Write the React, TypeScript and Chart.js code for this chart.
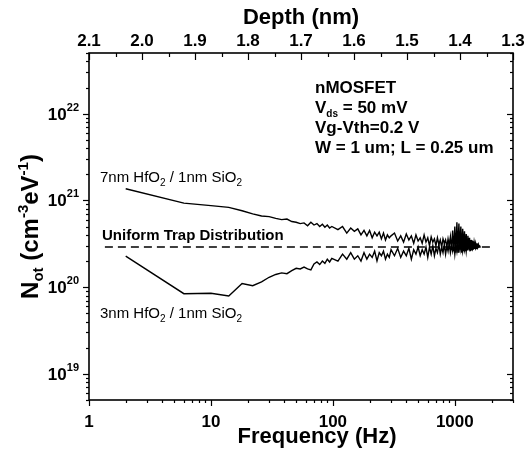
import React, { useEffect, useRef } from "react";
import { Chart, registerables } from "chart.js";

Chart.register(...registerables);

// ---------- data ----------
const freqHz = [
  2, 6, 10, 14, 18, 22, 26, 30, 34, 38, 42, 46, 50, 54, 58, 62, 66, 70, 74, 78, 82, 86, 90, 94, 98,
  110, 120, 130, 140, 150, 160, 170, 180, 190, 200, 210, 220, 230, 240, 250, 260, 270, 280, 290, 300,
  320, 340, 360, 380, 400, 420, 440, 460, 480, 500, 520, 540, 560, 580, 600, 620, 640, 660, 680, 700,
  720, 740, 760, 780, 800, 820, 840, 860, 880, 900, 920, 940, 960, 980, 1000, 1020, 1040, 1060, 1080, 1100,
  1120, 1140, 1160, 1180, 1200, 1220, 1240, 1260, 1280, 1300, 1320, 1340, 1360, 1380, 1400, 1420, 1440, 1460, 1480, 1500,
  1520, 1540, 1560, 1580, 1600,
];

// 7nm HfO2 / 1nm SiO2  (cm^-3 eV^-1)
const not7nm = [
  13.6e20, 9.3e20, 8.7e20, 8.3e20, 7.6e20, 7.0e20, 6.6e20, 6.5e20, 6.2e20, 6.0e20, 6.1e20, 5.7e20, 5.6e20, 5.4e20, 5.5e20, 5.1e20, 5.6e20, 5.2e20, 5.4e20, 5.0e20, 5.3e20, 4.9e20, 5.2e20, 4.8e20, 5.0e20,
  4.6e20, 5.0e20, 4.2e20, 4.8e20, 4.4e20, 4.7e20, 4.0e20, 4.5e20, 3.9e20, 4.5e20, 3.7e20, 4.3e20, 3.9e20, 4.3e20, 3.6e20, 4.2e20, 3.5e20, 4.0e20, 3.7e20, 3.9e20,
  4.2e20, 3.4e20, 3.9e20, 3.3e20, 4.1e20, 3.5e20, 3.9e20, 3.2e20, 4.0e20, 3.4e20, 3.7e20, 3.2e20, 4.0e20, 3.3e20, 3.7e20, 3.0e20, 3.8e20, 3.3e20, 3.6e20, 3.0e20,
  3.7e20, 3.1e20, 3.5e20, 2.9e20, 3.6e20, 3.2e20, 3.5e20, 2.9e20, 3.6e20, 3.0e20, 3.8e20, 2.7e20, 4.5e20, 2.6e20, 5.0e20, 2.5e20, 5.6e20, 2.5e20, 5.4e20, 2.7e20,
  5.0e20, 2.5e20, 4.7e20, 2.6e20, 4.4e20, 2.6e20, 4.1e20, 2.7e20, 3.9e20, 2.8e20, 3.7e20, 2.6e20, 3.5e20, 2.8e20, 3.4e20, 2.7e20, 3.3e20, 2.9e20, 3.2e20, 2.8e20,
  3.2e20, 2.9e20, 3.1e20, 2.9e20, 3.0e20,
];

// 3nm HfO2 / 1nm SiO2  (cm^-3 eV^-1)
const not3nm = [
  2.28e20, 0.84e20, 0.85e20, 0.79e20, 1.10e20, 1.04e20, 1.15e20, 1.30e20, 1.40e20, 1.46e20, 1.43e20, 1.55e20, 1.65e20, 1.62e20, 1.70e20, 1.62e20, 1.58e20, 1.85e20, 1.95e20, 1.82e20, 2.0e20, 1.88e20, 2.1e20, 1.95e20, 2.15e20,
  2.0e20, 2.4e20, 2.1e20, 2.5e20, 2.1e20, 2.3e20, 2.0e20, 2.5e20, 2.1e20, 2.4e20, 2.2e20, 2.6e20, 2.0e20, 2.5e20, 2.3e20, 2.6e20, 2.1e20, 2.4e20, 2.2e20, 2.7e20,
  2.3e20, 2.8e20, 2.2e20, 2.6e20, 2.3e20, 2.8e20, 2.1e20, 2.7e20, 2.4e20, 2.9e20, 2.3e20, 2.7e20, 2.4e20, 2.9e20, 2.2e20, 2.9e20, 2.4e20, 3.0e20, 2.3e20, 2.8e20,
  2.5e20, 3.1e20, 2.4e20, 2.9e20, 2.5e20, 3.1e20, 2.4e20, 3.0e20, 2.6e20, 3.2e20, 2.5e20, 3.0e20, 2.6e20, 3.2e20, 2.4e20, 3.1e20, 2.6e20, 3.3e20, 2.5e20, 3.2e20,
  2.7e20, 3.3e20, 2.6e20, 3.1e20, 2.7e20, 3.3e20, 2.6e20, 3.2e20, 2.7e20, 3.2e20, 2.8e20, 3.1e20, 2.7e20, 3.1e20, 2.8e20, 3.1e20, 2.8e20, 3.0e20, 2.8e20, 3.0e20,
  2.9e20, 3.0e20, 2.9e20, 3.0e20, 2.95e20,
];

// uniform trap distribution reference line
const uniformFreq = [1.35, 2000];
const uniformNot = [2.9e20, 2.9e20];

const freqTickLabels = [1, 10, 100, 1000];
const yDecades = [19, 20, 21, 22];
const depthTicks = [2.1, 2.0, 1.9, 1.8, 1.7, 1.6, 1.5, 1.4, 1.3];

const annotationLines = ["nMOSFET", "V|ds| = 50 mV", "Vg-Vth=0.2 V", "W = 1 um; L = 0.25 um"];

const FONT = "'Liberation Sans', Arial, Helvetica, sans-serif";

type Part = { t: string; sub?: boolean; sup?: boolean };

function drawParts(ctx: CanvasRenderingContext2D, x: number, y: number, parts: Part[], size: number, weight: string, small: number, subDy: number, supDy: number, measureOnly = false) {
  let cx = x;
  for (const p of parts) {
    const s = p.sub || p.sup ? small : size;
    ctx.font = `${weight} ${s}px ${FONT}`;
    const dy = p.sub ? subDy : p.sup ? -supDy : 0;
    if (!measureOnly) ctx.fillText(p.t, cx, y + dy);
    cx += ctx.measureText(p.t).width;
  }
  return cx - x;
}

const decor = {
  id: "decor",
  afterDraw(chart: any) {
    const { ctx, chartArea: a, scales } = chart;
    const xs = scales.x, ys = scales.y, x2 = scales.x2;
    ctx.save();
    ctx.strokeStyle = "#000";
    ctx.fillStyle = "#000";
    ctx.lineWidth = 1.6;
    ctx.strokeRect(a.left, a.top, a.right - a.left, a.bottom - a.top);

    ctx.lineWidth = 1.2;
    const line = (x1: number, y1: number, x2_: number, y2: number) => {
      ctx.beginPath();
      ctx.moveTo(x1, y1);
      ctx.lineTo(x2_, y2);
      ctx.stroke();
    };
    // bottom log ticks (outward)
    for (let d = 0; d <= 3; d++) {
      for (let m = 1; m <= 9; m++) {
        const v = m * Math.pow(10, d);
        if (v > xs.max) continue;
        const px = Math.round(xs.getPixelForValue(v)) + 0.5;
        line(px, a.bottom, px, a.bottom + (m === 1 ? 6 : 3));
      }
    }
    // left/right log ticks
    for (let e = 18; e <= 22; e++) {
      for (let m = 1; m <= 9; m++) {
        const v = m * Math.pow(10, e);
        if (v < ys.min * 0.999 || v > ys.max * 1.001) continue;
        const py = Math.round(ys.getPixelForValue(v)) + 0.5;
        const len = m === 1 ? 6 : 3;
        line(a.left - len, py, a.left, py);
        line(a.right - len, py, a.right, py);
      }
    }
    // top depth ticks (inward)
    for (let i = 0; i < depthTicks.length; i++) {
      const px = Math.round(x2.getPixelForValue(depthTicks[i])) + 0.5;
      line(px, a.top, px, a.top + 7);
      if (i < depthTicks.length - 1) {
        const mid = (depthTicks[i] + depthTicks[i + 1]) / 2;
        const pm = Math.round(x2.getPixelForValue(mid)) + 0.5;
        line(pm, a.top, pm, a.top + 4);
      }
    }

    // y tick labels 10^n
    ctx.textBaseline = "alphabetic";
    for (const e of yDecades) {
      const py = ys.getPixelForValue(Math.pow(10, e));
      ctx.font = `bold 11px ${FONT}`;
      const ew = ctx.measureText(String(e)).width;
      const right = a.left - 10;
      ctx.textAlign = "left";
      ctx.fillText(String(e), right - ew, py - 3);
      ctx.font = `bold 17px ${FONT}`;
      ctx.textAlign = "right";
      ctx.fillText("10", right - ew, py + 6);
    }
    ctx.textAlign = "left";

    // x axis title (bottom)
    ctx.font = `bold 22px ${FONT}`;
    ctx.textAlign = "center";
    ctx.fillText("Frequency (Hz)", 317, 443);
    ctx.textAlign = "left";

    // y axis title (rotated)
    const titleParts: Part[] = [
      { t: "N" }, { t: "ot", sub: true }, { t: " (cm" }, { t: "-3", sup: true }, { t: "eV" }, { t: "-1", sup: true }, { t: ")" },
    ];
    ctx.save();
    ctx.translate(29, (a.top + a.bottom) / 2);
    ctx.rotate(-Math.PI / 2);
    const tw = drawParts(ctx, 0, 0, titleParts, 24, "bold", 15, 5, 10, true);
    drawParts(ctx, -tw / 2, 9, titleParts, 24, "bold", 15, 5, 10);
    ctx.restore();

    // curve labels
    const hf = (pre: string): Part[] => [{ t: pre + " HfO" }, { t: "2", sub: true }, { t: " / 1nm SiO" }, { t: "2", sub: true }];
    drawParts(ctx, 100, 182, hf("7nm"), 15, "normal", 10, 4, 6);
    drawParts(ctx, 100, 318, hf("3nm"), 15, "normal", 10, 4, 6);
    ctx.font = `bold 15px ${FONT}`;
    ctx.fillText("Uniform Trap Distribution", 102, 240);

    // condition box
    annotationLines.forEach((ln, i) => {
      const seg = ln.split("|");
      const parts: Part[] = seg.length === 3 ? [{ t: seg[0] }, { t: seg[1], sub: true }, { t: seg[2] }] : [{ t: ln }];
      drawParts(ctx, 315, 93 + i * 20, parts, 17, "bold", 10, 4, 6);
    });
    ctx.restore();
  },
};

export default function App() {
  const ref = useRef<HTMLCanvasElement>(null);
  useEffect(() => {
    if (!ref.current) return;
    Chart.defaults.font.family = FONT;
    const pts = (xs: number[], ys: number[]) => xs.map((x, i) => ({ x, y: ys[i] }));
    const chart = new Chart(ref.current, {
      type: "line",
      data: {
        datasets: [
          { label: "7nm HfO2 / 1nm SiO2", data: pts(freqHz, not7nm), borderColor: "#000", borderWidth: 1.4, pointRadius: 0, tension: 0, xAxisID: "x", yAxisID: "y" },
          { label: "3nm HfO2 / 1nm SiO2", data: pts(freqHz, not3nm), borderColor: "#000", borderWidth: 1.4, pointRadius: 0, tension: 0, xAxisID: "x", yAxisID: "y" },
          { label: "Uniform Trap Distribution", data: pts(uniformFreq, uniformNot), borderColor: "#000", borderWidth: 1.5, borderDash: [8, 5], pointRadius: 0, xAxisID: "x", yAxisID: "y" },
        ],
      },
      options: {
        animation: false,
        responsive: false,
        devicePixelRatio: 1,
        layout: { padding: { left: 0, right: 12, top: 0, bottom: 0 } },
        plugins: { legend: { display: false }, tooltip: { enabled: false } },
        scales: {
          x: {
            type: "logarithmic",
            position: "bottom",
            min: 1,
            max: 3000,
            grid: { display: false, drawTicks: false },
            border: { display: false },
            ticks: {
              autoSkip: false,
              maxRotation: 0,
              padding: 12,
              color: "#000",
              font: { size: 17, weight: "bold" },
              callback: (v: any) => (freqTickLabels.some((t) => Math.abs(t - Number(v)) < 1e-6) ? String(Number(v)) : ""),
            },
            title: { display: false },
            afterFit: (s: any) => { s.height = 56; s.paddingLeft = 0; s.paddingRight = 0; },
          },
          x2: {
            type: "linear",
            position: "top",
            min: 1.3,
            max: 2.1,
            reverse: true,
            grid: { display: false, drawTicks: false },
            border: { display: false },
            ticks: {
              autoSkip: false,
              maxRotation: 0,
              stepSize: 0.1,
              padding: 1,
              color: "#000",
              font: { size: 17, weight: "bold" },
              callback: (v: any) => Number(v).toFixed(1),
            },
            title: { display: true, text: "Depth (nm)", color: "#000", font: { size: 22, weight: "bold" }, padding: { top: 5, bottom: 0 } },
            afterFit: (s: any) => { s.height = 53; s.paddingLeft = 0; s.paddingRight = 0; },
          },
          y: {
            type: "logarithmic",
            position: "left",
            min: 5e18,
            max: 5e22,
            grid: { display: false, drawTicks: false },
            border: { display: false },
            ticks: { display: false },
            afterFit: (s: any) => { s.width = 89; s.paddingTop = 0; s.paddingBottom = 0; },
          },
        },
      },
      plugins: [decor],
    } as any);
    return () => chart.destroy();
  }, []);
  return (
    <div style={{ position: "absolute", left: 0, top: 0, width: 525, height: 456, background: "#fff" }}>
      <canvas ref={ref} width={525} height={456} />
    </div>
  );
}
